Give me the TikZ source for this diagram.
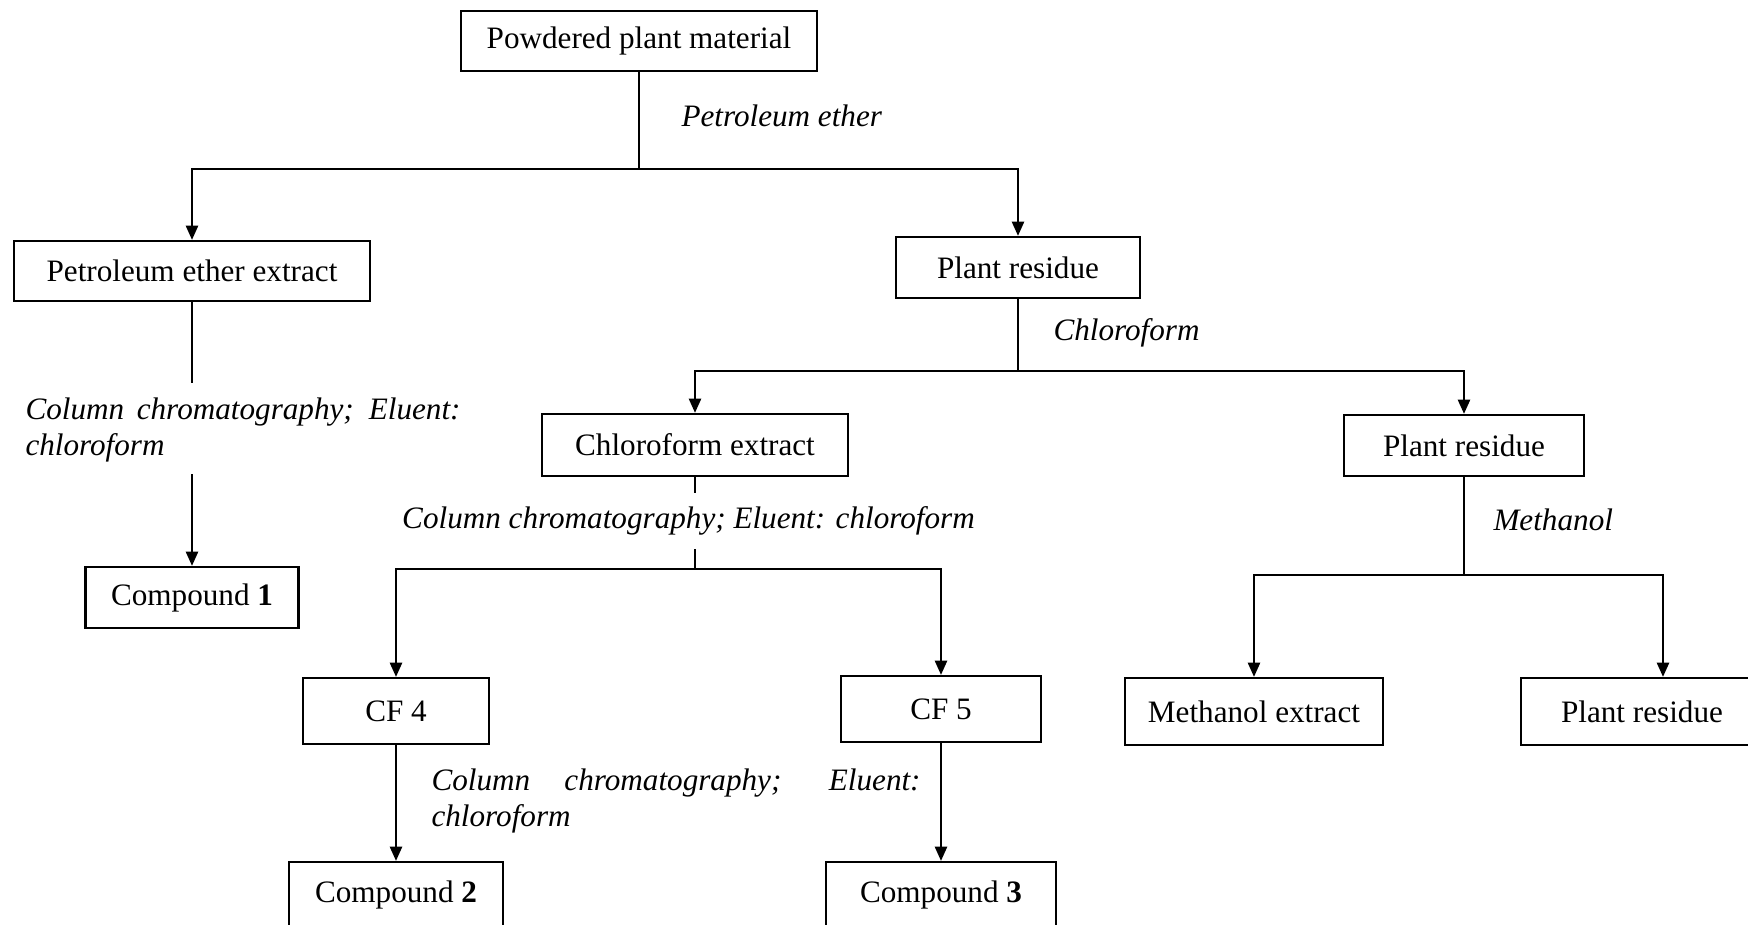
\documentclass[tikz,border=0pt]{standalone}
\usepackage{fontspec}
\setmainfont{Liberation Serif}
\usetikzlibrary{arrows.meta}
\hyphenpenalty=10000
\tikzset{
	box/.style 2 args={draw, line width=0.8pt, minimum width=#1, minimum height=#2, inner sep=0pt, font=\fontsize{12pt}{13.8pt}\selectfont},
	solvent/.style={anchor=west, inner sep=0pt, font=\fontsize{12pt}{13.8pt}\selectfont\itshape},
	method/.style={anchor=west, inner sep=0pt, text width=#1, align=justify, font=\fontsize{12pt}{13.8pt}\selectfont\itshape},
	stemline/.style={line width=0.7pt},
	arrowline/.style={line width=1pt, -{Triangle[length=5.5pt,width=4.6pt]}},
	forkline/.style={line width=1pt, {Triangle[length=5.5pt,width=4.6pt]}-{Triangle[length=5.5pt,width=4.6pt]}}
}
\begin{document}
\begin{tikzpicture}[x=0.385pt, y=-0.385pt]
		\useasboundingbox (0,0) rectangle (1748,925);
		
		\node[box={137.4pt}{23.1pt}] (powder) at (639,41) {Powdered plant material};
		\node[box={137.1pt}{23.1pt}] (petext) at (192,271) {Petroleum ether extract};
		\node[box={93.6pt}{23.5pt}] (res1) at (1018,267.5) {Plant residue};
		\node[box={82pt}{23.5pt}] (comp1) at (192,597.5) {Compound \textbf{1}};
		\node[box={117.8pt}{23.9pt}] (chlext) at (695,445) {Chloroform extract};
		\node[box={92.4pt}{23.5pt}] (res2) at (1464,445.5) {Plant residue};
		\node[box={71.6pt}{25.4pt}] (cf4) at (396,711) {CF 4};
		\node[box={77pt}{25.4pt}] (cf5) at (941,709) {CF 5};
		\node[box={82.4pt}{25.4pt}] (comp2) at (396,895) {Compound \textbf{2}};
		\node[box={88.2pt}{25.4pt}] (comp3) at (941,895) {Compound \textbf{3}};
		\node[box={99.3pt}{25.8pt}] (meext) at (1254,711.5) {Methanol extract};
		\node[box={93.2pt}{25.8pt}] (res3) at (1642,711.5) {Plant residue};
		
		\node[solvent] (petroleum) at (681,116) {Petroleum ether};
		\node[solvent] (chloroform) at (1053,333) {Chloroform};
		\node[solvent] (methanol) at (1493,520) {Methanol};
		\node[method=167.5pt] (column1) at (25,430) {Column chromatography; Eluent:\linebreak chloroform};
		\node[solvent, anchor=center] (column2) at (688.5,521) {Column chromatography; Eluent: chloroform};
		\node[method=188.3pt] (column3) at (431,801) {Column chromatography; Eluent:\linebreak chloroform};
		
		\coordinate (j1) at (639,169);
		\coordinate (j2) at (1018,371);
		\coordinate (j3) at (695,569);
		\coordinate (j4) at (1464,575);
		\coordinate (j4e) at (1663,575);
		\coordinate (c1a) at (192,383);
		\coordinate (c1b) at (192,474);
		\coordinate (c2a) at (695,493);
		\coordinate (c2b) at (695,549);
		
		\draw[stemline] (powder) -- (j1);
		\draw[forkline] (petext.north) |- (j1) -| (res1.north);
		\draw[stemline] (petext) -- (c1a);
		\draw[arrowline] (c1b) -- (comp1);
		\draw[stemline] (res1) -- (j2);
		\draw[forkline] (chlext.north) |- (j2) -| (res2.north);
		\draw[stemline] (chlext) -- (c2a);
		\draw[stemline] (c2b) -- (j3);
		\draw[forkline] (cf4.north) |- (j3) -| (cf5.north);
		\draw[arrowline] (cf4) -- (comp2);
		\draw[arrowline] (cf5) -- (comp3);
		\draw[stemline] (res2) -- (j4);
		\draw[forkline] (meext.north) |- (j4e) -- (res3.north -| j4e);
	\end{tikzpicture}
\end{document}
